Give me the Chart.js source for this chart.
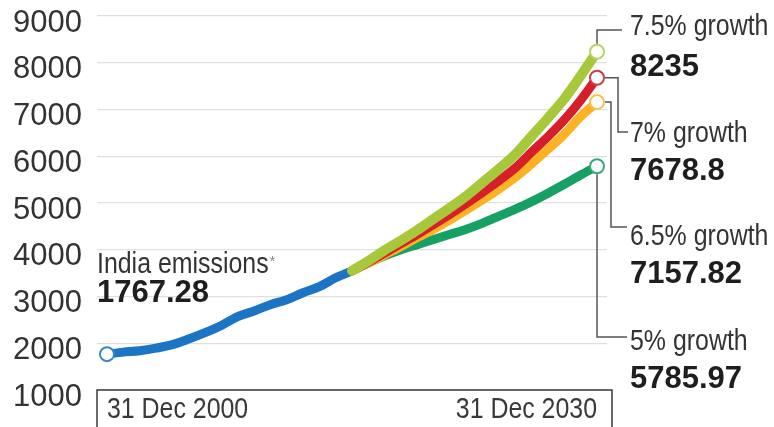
<!DOCTYPE html>
<html>
<head>
<meta charset="utf-8">
<script src="https://cdn.jsdelivr.net/npm/chart.js@4.4.1/dist/chart.umd.min.js"></script>
<style>
  html, body { margin: 0; padding: 0; background: #fff; }
  #wrap { width: 774px; height: 427px; }
</style>
</head>
<body>
<div id="wrap"><canvas id="c" width="774" height="427"></canvas></div>
<script>
// ---- data ----
const historyYears = [2000, 2001, 2002, 2003, 2004, 2005, 2006, 2007, 2008, 2009, 2010, 2011, 2012, 2013, 2014, 2015];
const indiaEmissions = [1767.28, 1810, 1840, 1895, 1970, 2090, 2226, 2380, 2570, 2690, 2825, 2930, 3080, 3210, 3400, 3550];

const projYears = [2015, 2016, 2017, 2018, 2019, 2020, 2021, 2022, 2023, 2024, 2025, 2026, 2027, 2028, 2029, 2030];
const growth75 = [3550, 3760, 3990, 4200, 4420, 4660, 4900, 5150, 5440, 5730, 6040, 6430, 6820, 7230, 7720, 8235];
const growth7  = [3550, 3730, 3930, 4130, 4330, 4540, 4760, 4990, 5230, 5480, 5750, 6090, 6420, 6780, 7200, 7678.8];
const growth65 = [3550, 3710, 3890, 4070, 4260, 4440, 4640, 4850, 5070, 5300, 5550, 5840, 6150, 6470, 6850, 7157.82];
const growth5  = [3550, 3720, 3870, 4000, 4110, 4220, 4330, 4440, 4570, 4720, 4870, 5030, 5210, 5400, 5600, 5785.97];

const yTicks = [1000, 2000, 3000, 4000, 5000, 6000, 7000, 8000, 9000];
const xLabels = ['31 Dec 2000', '31 Dec 2030'];
const seriesNames = ['7.5% growth', '7% growth', '6.5% growth', '5% growth'];
const seriesValueText = ['8235', '7678.8', '7157.82', '5785.97'];
const historyName = 'India emissions';
const historyValueText = '1767.28';

// ---- styling ----
const REG = "'Liberation Sans', Arial, sans-serif";
const CONDENSE = 0.83;
const colors = {
  blue: '#1c74c4',
  lime: '#a6c83a',
  red: '#d61f2a',
  orange: '#fbb223',
  green: '#17a064'
};

function pts(xs, ys) { return xs.map((x, i) => ({ x: x, y: ys[i] })); }
function lastOnly(n, r) { return ctx => ctx.dataIndex === n - 1 ? r : 0; }

function lineDs(label, xs, ys, color, order, width, markerColor) {
  return {
    label: label,
    data: pts(xs, ys),
    borderColor: color,
    borderWidth: width,
    borderCapStyle: 'round',
    borderJoinStyle: 'round',
    tension: 0.35,
    cubicInterpolationMode: 'monotone',
    fill: false,
    order: order,
    pointRadius: lastOnly(ys.length, 7),
    pointHoverRadius: 0,
    pointBackgroundColor: '#ffffff',
    pointBorderColor: markerColor,
    pointBorderWidth: 2
  };
}

const datasets = [
  lineDs(seriesNames[0], projYears, growth75, colors.lime, 0, 10, '#b8d36a'),
  lineDs(seriesNames[1], projYears, growth7, colors.red, 1, 9, '#c8404a'),
  lineDs(seriesNames[2], projYears, growth65, colors.orange, 2, 9, '#f3c35a'),
  lineDs(seriesNames[3], projYears, growth5, colors.green, 3, 9, '#3aa675'),
  Object.assign(lineDs(historyName, historyYears, indiaEmissions, colors.blue, 4, 9, '#3d86c6'), {
    pointRadius: ctx => ctx.dataIndex === 0 ? 7 : 0
  })
];

// draw text horizontally condensed (narrow typeface look); returns drawn width
function narrowText(ctx, text, x, y) {
  const w = ctx.measureText(text).width * CONDENSE;
  const align = ctx.textAlign;
  let sx = x;
  if (align === 'right') sx = x - w;
  ctx.textAlign = 'left';
  ctx.fillText(text, sx, y, w);
  ctx.textAlign = align;
  return w;
}

const annotate = {
  id: 'annotate',
  afterDatasetsDraw(chart) {
    const ctx = chart.ctx;
    const area = chart.chartArea;
    const xs = chart.scales.x, ys = chart.scales.y;
    ctx.save();

    // bottom axis box
    ctx.strokeStyle = '#3a3a3a';
    ctx.lineWidth = 1.5;
    const boxTop = ys.getPixelForValue(1000);
    ctx.beginPath();
    ctx.moveTo(area.left, chart.height + 2);
    ctx.lineTo(area.left, boxTop);
    ctx.lineTo(area.right + 5, boxTop);
    ctx.lineTo(area.right + 5, chart.height + 2);
    ctx.stroke();

    ctx.fillStyle = '#3a3a3a';
    ctx.font = '30px ' + REG;
    ctx.textBaseline = 'alphabetic';
    ctx.textAlign = 'left';
    narrowText(ctx, xLabels[0], xs.getPixelForValue(2000), 418);
    ctx.textAlign = 'right';
    narrowText(ctx, xLabels[1], xs.getPixelForValue(2030), 418);

    // history label
    ctx.textAlign = 'left';
    ctx.fillStyle = '#333';
    ctx.font = '30px ' + REG;
    const w = narrowText(ctx, historyName, area.left, 273);
    ctx.fillStyle = '#888';
    ctx.font = '15px ' + REG;
    ctx.fillText('*', area.left + w + 1, 266);
    ctx.fillStyle = '#1e1e1e';
    ctx.font = 'bold 31px ' + REG;
    ctx.fillText(historyValueText, area.left, 302);

    // right labels
    const endVals = [growth75[growth75.length - 1], growth7[growth7.length - 1], growth65[growth65.length - 1], growth5[growth5.length - 1]];
    const px = xs.getPixelForValue(2030);
    const py = endVals.map(v => ys.getPixelForValue(v));
    const r = 8;
    const nameBase = [35, 142, 245, 350];
    const valBase = [76, 180, 283, 388];

    ctx.strokeStyle = '#555';
    ctx.lineWidth = 1.5;
    ctx.beginPath();
    // 7.5%
    ctx.moveTo(px, py[0] - r); ctx.lineTo(px, 30); ctx.lineTo(622, 30);
    // 7%
    ctx.moveTo(px + r, py[1]); ctx.lineTo(618, py[1]); ctx.lineTo(618, 132); ctx.lineTo(628, 132);
    // 6.5%
    ctx.moveTo(px + r, py[2]); ctx.lineTo(611, py[2]); ctx.lineTo(611, 227); ctx.lineTo(627, 227);
    // 5%
    ctx.moveTo(px, py[3] + r); ctx.lineTo(px, 337); ctx.lineTo(627, 337);
    ctx.stroke();

    for (let i = 0; i < 4; i++) {
      ctx.fillStyle = '#333';
      ctx.font = '30px ' + REG;
      narrowText(ctx, seriesNames[i], 630, nameBase[i]);
      ctx.fillStyle = '#1e1e1e';
      ctx.font = 'bold 31px ' + REG;
      ctx.fillText(seriesValueText[i], 630, valBase[i]);
    }
    ctx.restore();
  }
};

new Chart(document.getElementById('c'), {
  type: 'line',
  data: { datasets: datasets },
  plugins: [annotate],
  options: {
    responsive: false,
    devicePixelRatio: 1,
    animation: false,
    layout: { padding: { top: 16, right: 167, bottom: 37, left: 0 } },
    plugins: { legend: { display: false }, tooltip: { enabled: false } },
    scales: {
      x: { type: 'linear', min: 1999.388, max: 2030.612, display: false },
      y: {
        min: yTicks[0],
        max: yTicks[yTicks.length - 1],
        afterBuildTicks(scale) { scale.ticks = yTicks.map(v => ({ value: v })); },
        afterFit(scale) { scale.width = 97; scale.paddingTop = 0; scale.paddingBottom = 0; },
        ticks: {
          font: { family: REG, size: 31 },
          color: '#333',
          padding: 15,
          labelOffset: 7,
          callback: v => String(v)
        },
        grid: { color: '#e0e0e0', lineWidth: 1.2, drawTicks: false },
        border: { display: false }
      }
    }
  }
});
</script>
</body>
</html>
